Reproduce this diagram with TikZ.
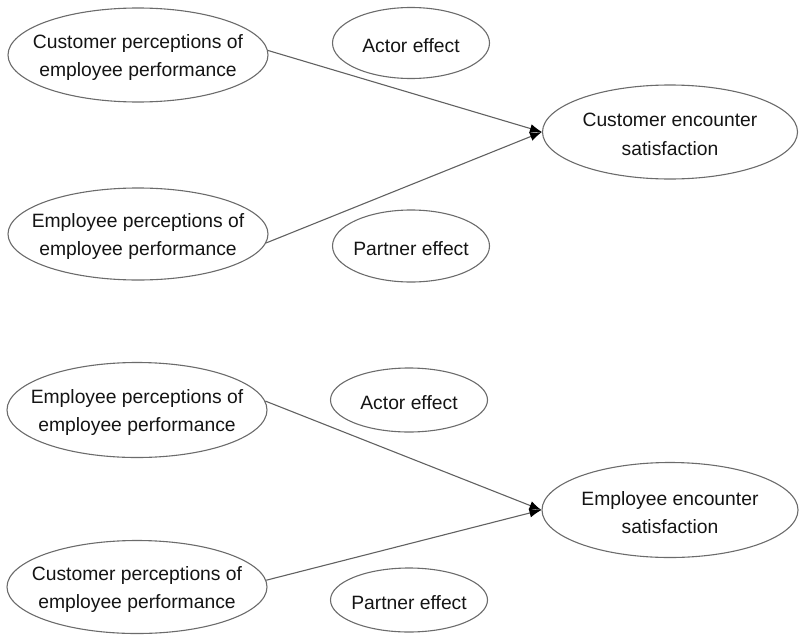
\documentclass[tikz,border=0pt]{standalone}
\usepackage{fontspec}
\setmainfont{Liberation Sans}
\usetikzlibrary{shapes.geometric,arrows.meta}
\begin{document}
\begin{tikzpicture}[x=1pt,y=-1pt,
  oval/.style={ellipse,draw=black!58,line width=1.1pt,inner sep=0pt},
  big/.style={oval,minimum width=260pt,minimum height=94pt},
  small/.style={oval,minimum width=157pt,minimum height=68pt},
  txt/.style={align=center,inner sep=0pt,yshift=-2.5pt,font=\fontsize{19.3}{28.5}\selectfont,text=black!92},
  path/.style={draw=black!62,line width=1.1pt,-{Latex[length=12pt,width=9pt,black]}}]
\useasboundingbox (0,0) rectangle (799,634);
% top panel
\node[big] (A1) at (138,55) {};
\node[txt] (A1t) at (A1.center) {Customer perceptions of\\employee performance};
\node[small,minimum height=71pt] (E1) at (411,43) {};
\node[txt] (E1t) at (E1.center) {Actor effect};
\node[big,minimum width=255pt] (C1) at (670,132) {};
\node[txt] (C1t) at (C1.center) {Customer encounter\\satisfaction};
\node[big,minimum height=92pt] (B1) at (138,234) {};
\node[txt] (B1t) at (B1.center) {Employee perceptions of\\employee performance};
\node[small,minimum height=72pt] (P1) at (411,246) {};
\node[txt] (P1t) at (P1.center) {Partner effect};
\draw[path] (A1.2) -- (C1.west);
\draw[path] (B1.-4) -- (C1.west);
% bottom panel
\node[big,minimum height=95pt] (A2) at (137,410) {};
\node[txt] (A2t) at (A2.center) {Employee perceptions of\\employee performance};
\node[small,minimum height=64pt] (E2) at (409,400) {};
\node[txt] (E2t) at (E2.center) {Actor effect};
\node[big,minimum width=256pt,minimum height=95pt] (C2) at (670,510) {};
\node[txt] (C2t) at (C2.center) {Employee encounter\\satisfaction};
\node[big,minimum height=93pt] (B2) at (137,587) {};
\node[txt] (B2t) at (B2.center) {Customer perceptions of\\employee performance};
\node[small,minimum height=64pt] (P2) at (409,600) {};
\node[txt] (P2t) at (P2.center) {Partner effect};
\draw[path] (A2.4.4) -- (C2.west);
\draw[path] (B2.3) -- (C2.west);
\end{tikzpicture}
\end{document}
